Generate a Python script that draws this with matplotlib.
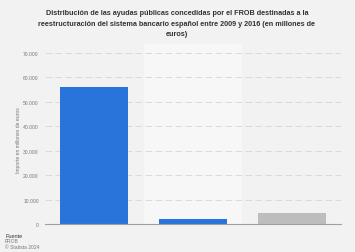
import matplotlib
matplotlib.use("Agg")
import matplotlib.pyplot as plt
import numpy as np

plt.rcParams['font.family'] = ['Liberation Sans', 'DejaVu Sans']

title = ("Distribución de las ayudas públicas concedidas por el FROB destinadas a la\n"
         "reestructuración del sistema bancario español entre 2009 y 2016 (en millones de\n"
         "euros)")
categories = ["", "", ""]
values = [56100, 2000, 4400]
bar_colors = ["#2874db", "#2874db", "#bdbdbd"]
yticks = [0, 10000, 20000, 30000, 40000, 50000, 60000, 70000]
ytick_labels = ["0", "10.000", "20.000", "30.000", "40.000", "50.000", "60.000", "70.000"]
ylabel = "Importe en millones de euros"
source_lines = ["Fuente", "FROB", "© Statista 2024"]

bg = "#f2f2f2"
fig = plt.figure(figsize=(3.55, 2.53), dpi=100, facecolor=bg)
ax = fig.add_axes([45/355, 28/253, 296/355, 180/253])
ax.set_facecolor(bg)

x = np.arange(len(values))
ax.axvspan(0.5, 1.5, color="#f7f7f7", zorder=0, lw=0)

ax.bar(x, values, width=0.69, color=bar_colors, zorder=3)

ax.set_xlim(-0.5, len(values) - 0.5)
ax.set_ylim(0, 73500)
ax.set_yticks(yticks)
ax.set_yticklabels(ytick_labels, fontsize=3.6, color="#777777")
ax.set_xticks(x)
ax.set_xticklabels(categories)
ax.tick_params(axis='both', length=0, pad=8)
ax.tick_params(axis='y', pad=4.5)
ax.grid(axis='y', color="#d6d6d6", linestyle=(0, (8, 4)), linewidth=0.6, zorder=1)
for s in ["top", "right", "left"]:
    ax.spines[s].set_visible(False)
ax.spines["bottom"].set_color("#a0a0a0")
ax.spines["bottom"].set_linewidth(0.8)
ax.spines["bottom"].set_zorder(4)

fig.text(19/355, 1 - 140/253, ylabel, rotation=90, fontsize=3.6, color="#777777",
         ha="center", va="center")

fig.text(177/355, 1 - 24/253, title, ha="center", va="center", fontsize=5.2,
         fontweight="bold", color="#333333", linespacing=1.75)

fig.text(5/355, 1 - 236/253, source_lines[0], fontsize=4, color="#333333", va="center")
fig.text(5/355, 1 - 242/253, source_lines[1], fontsize=3.6, color="#777777", va="center")
fig.text(5/355, 1 - 248/253, source_lines[2], fontsize=3.6, color="#777777", va="center")

fig.savefig("out.png", dpi=100, facecolor=bg)
